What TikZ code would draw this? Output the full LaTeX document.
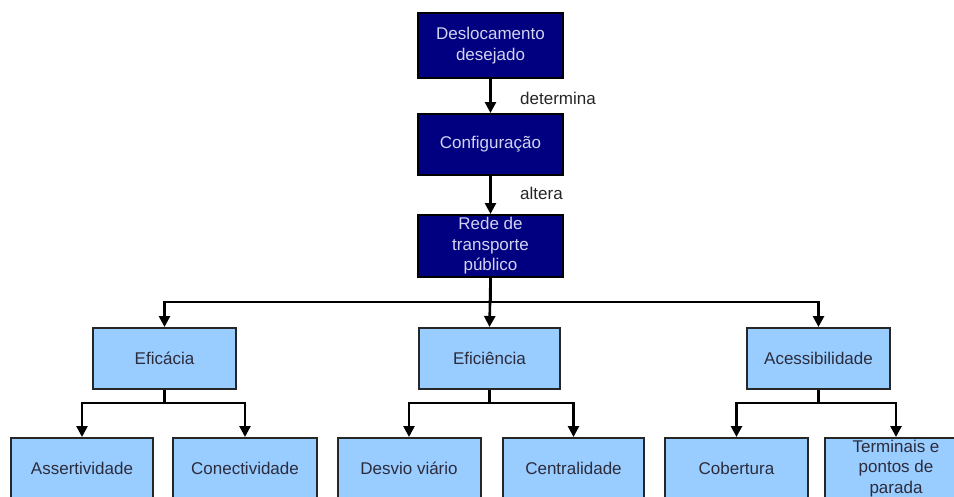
\documentclass[tikz,border=0pt]{standalone}
\usepackage{fontspec}
\setmainfont{Liberation Sans}
\usetikzlibrary{arrows.meta}
\definecolor{navybox}{HTML}{000080}
\definecolor{navytext}{HTML}{D2D2F2}
\definecolor{skybox}{HTML}{99CCFF}
\definecolor{inktext}{HTML}{2C2C3C}
\tikzset{
  darkbox/.style={draw=black, line width=2pt, fill=navybox, text=navytext,
    minimum width=145pt, minimum height=#1, align=center, inner sep=0pt,
    font=\fontsize{17}{20.5}\selectfont},
  lightbox/.style={draw=black!85, line width=2pt, fill=skybox, text=inktext,
    minimum width=143pt, minimum height=61pt, align=center, inner sep=0pt,
    font=\fontsize{17}{20.5}\selectfont},
  arr/.style={line width=2.6pt, -{Triangle[width=11pt,length=11pt]}},
  edgelabel/.style={text=black!85, font=\fontsize{17}{20.5}\selectfont, inner sep=0pt, anchor=west}
}
\begin{document}
\begin{tikzpicture}[x=1pt,y=-1pt]
\useasboundingbox (0,0) rectangle (954,496);
\fill[white] (0,0) rectangle (954,496);
\clip (0,0) rectangle (954,496);

% top chain
\node[darkbox=65pt] (desl) at (490.5,45.5) {Deslocamento\\desejado};
\node[darkbox=61pt] (conf) at (490.5,144.5) {Configuração};
\node[darkbox=62pt] (rede) at (490.5,246) {Rede de\\transporte\\público};

% second level
\node[lightbox] (efic) at (164.5,358.5) {Eficácia};
\node[lightbox, minimum width=141pt] (efin) at (489.5,358.5) {Eficiência};
\node[lightbox] (aces) at (818.5,358.5) {Acessibilidade};

% third level
\node[lightbox, minimum width=142pt] (asse) at (82,468.5) {Assertividade};
\node[lightbox, minimum width=144pt] (cone) at (245,468.5) {Conectividade};
\node[lightbox] (desv) at (409,468.5) {Desvio viário};
\node[lightbox, minimum width=141pt] (cent) at (573.5,468.5) {Centralidade};
\node[lightbox] (cobe) at (736.5,468.5) {Cobertura};
\node[lightbox] (term) at (896,468.5) {Terminais e\\pontos de\\parada};

% connectors
\draw[arr] (desl.south) -- (conf.north);
\draw[arr] (conf.south) -- (rede.north);
\node[edgelabel] (lbldet) at (520,98) {determina};
\node[edgelabel] (lblalt) at (520,193) {altera};

\draw[arr] (rede.south) -- ++(0,24) -| (efic.north);
\draw[arr] (rede.south) -- (efin.north);
\draw[arr] (rede.south) -- ++(0,24) -| (aces.north);

\foreach \p/\a/\b in {efic/asse/cone, efin/desv/cent, aces/cobe/term}{
  \draw[arr] (\p.south) -- ++(0,13) -| (\a.north);
  \draw[arr] (\p.south) -- ++(0,13) -| (\b.north);
}
\end{tikzpicture}
\end{document}
